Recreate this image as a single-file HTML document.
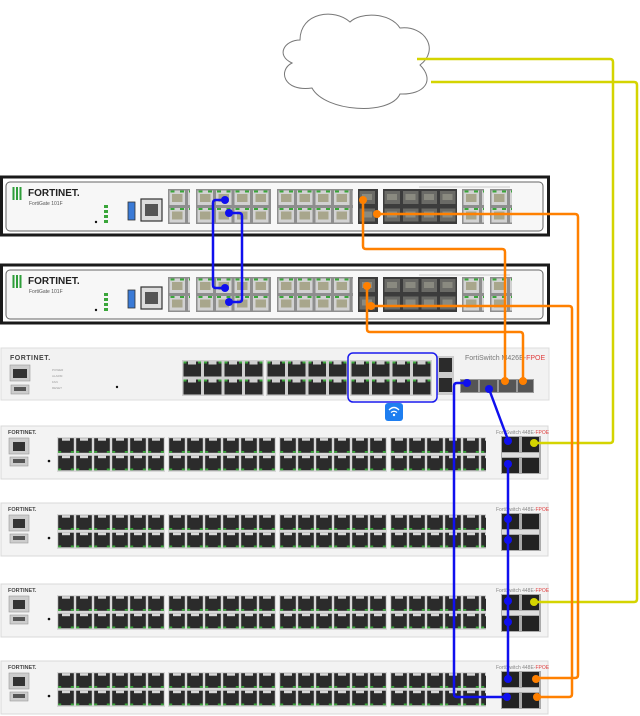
<!DOCTYPE html>
<html><head><meta charset="utf-8"><style>
html,body{margin:0;padding:0;background:#fff;}
svg{display:block;font-family:"Liberation Sans",sans-serif;}
</style></head><body>
<svg width="640" height="716" viewBox="0 0 640 716" xmlns="http://www.w3.org/2000/svg">
<defs>
<pattern id="fgp" x="0" y="0" width="18.5" height="17.5" patternUnits="userSpaceOnUse">
<rect x="0" y="0" width="18.5" height="17.5" fill="#8e8e8e"/>
<rect x="1.5" y="1.5" width="15.5" height="14.5" fill="#d2d2d2"/>
<rect x="4" y="5" width="10.5" height="8" fill="#a8a68c"/>
<rect x="2.5" y="1.5" width="4" height="2" fill="#3aa63a"/>
<rect x="12" y="1.5" width="4" height="2" fill="#3aa63a"/>
</pattern>
<pattern id="sfp" x="0" y="0" width="18.5" height="17.5" patternUnits="userSpaceOnUse">
<rect x="0" y="0" width="18.5" height="17.5" fill="#3c3c3c"/>
<rect x="1.5" y="2" width="15.5" height="13" fill="#6a6a66"/>
<rect x="4" y="5" width="10" height="6" fill="#8a8a80"/>
</pattern>
<pattern id="swp" x="0" y="0" width="18" height="17.5" patternUnits="userSpaceOnUse">
<rect x="0" y="0" width="18" height="17.5" fill="#d8d8d8"/>
<rect x="1.2" y="1.2" width="15.6" height="14.6" fill="#2b2b2b"/>
<rect x="5" y="1.2" width="8" height="2.5" fill="#d8d8d8"/>
<rect x="1.2" y="14" width="3" height="1.8" fill="#3aa63a"/>
<rect x="13.8" y="14" width="3" height="1.8" fill="#3aa63a"/>
</pattern>
<pattern id="mp" x="0" y="0" width="20.5" height="18" patternUnits="userSpaceOnUse">
<rect x="0" y="0" width="20.5" height="18" fill="#cfcfcf"/>
<rect x="1.5" y="1.5" width="17.5" height="15" fill="#2b2b2b"/>
<rect x="6" y="1.5" width="8" height="3" fill="#cfcfcf"/>
<rect x="1.5" y="1.5" width="3" height="2" fill="#3aa63a"/>
<rect x="16" y="1.5" width="3" height="2" fill="#3aa63a"/>
</pattern>
<g id="fg">
<rect x="1.5" y="0" width="547" height="58" fill="#fff" stroke="#1a1a1a" stroke-width="3"/>
<rect x="6" y="5" width="537" height="49" rx="4" fill="#f7f7f7" stroke="#666" stroke-width="1"/>
<rect x="12.5" y="10" width="2" height="13" fill="#2e9e3a"/>
<rect x="16" y="10" width="2" height="13" fill="#2e9e3a"/>
<rect x="19.5" y="10" width="2" height="13" fill="#2e9e3a"/>
<rect x="104" y="28" width="4" height="3" fill="#3aa63a"/><rect x="104" y="33" width="4" height="3" fill="#3aa63a"/>
<rect x="104" y="38" width="4" height="3" fill="#3aa63a"/><rect x="104" y="43" width="4" height="3" fill="#3aa63a"/>
<circle cx="96" cy="45" r="1.2" fill="#111"/>
<rect x="128" y="25" width="7" height="18" fill="#3a7ad6" stroke="#333" stroke-width="0.8"/>
<rect x="141" y="22" width="21" height="22" fill="#ddd" stroke="#333" stroke-width="1.2"/>
<rect x="145" y="27" width="13" height="12" fill="#555"/>
<g transform="translate(168,12)"><rect width="22" height="35" fill="url(#fgp)"/></g>
<g transform="translate(196,12)"><rect width="75" height="35" fill="url(#fgp)"/></g>
<g transform="translate(277,12)"><rect width="76" height="35" fill="url(#fgp)"/></g>
<g transform="translate(358,12)"><rect width="20" height="35" fill="url(#sfp)"/></g>
<g transform="translate(383,12)"><rect width="74" height="35" fill="url(#sfp)"/></g>
<g transform="translate(462,12)"><rect width="22" height="35" fill="url(#fgp)"/></g>
<g transform="translate(490,12)"><rect width="22" height="35" fill="url(#fgp)"/></g>
<line x1="419" y1="10" x2="510" y2="10" stroke="#999" stroke-width="0.6"/>
</g>
<g id="sw">
<rect x="1" y="0" width="547" height="53" fill="#f3f3f3" stroke="#d8d8d8" stroke-width="1"/>
<rect x="9" y="12" width="20" height="16" fill="#ccc" stroke="#999" stroke-width="0.6"/>
<rect x="13" y="16" width="12" height="9" fill="#333"/>
<rect x="10" y="31" width="18" height="9" fill="#ccc" stroke="#999" stroke-width="0.6"/>
<rect x="13" y="33" width="12" height="4" fill="#555"/>
<circle cx="49" cy="35" r="1.3" fill="#111"/>
<g transform="translate(57,11)"><rect width="108" height="35" fill="url(#swp)"/></g>
<g transform="translate(168,11)"><rect width="108" height="35" fill="url(#swp)"/></g>
<g transform="translate(279,11)"><rect width="108" height="35" fill="url(#swp)"/></g>
<g transform="translate(390,11)"><rect width="96" height="35" fill="url(#swp)"/></g>
<rect x="501" y="10" width="40" height="38" fill="#aaa"/>
<rect x="502" y="11" width="17" height="15" fill="#222"/><rect x="522" y="11" width="17" height="15" fill="#222"/>
<rect x="502" y="32" width="17" height="15" fill="#222"/><rect x="522" y="32" width="17" height="15" fill="#222"/>
<rect x="502" y="27" width="37" height="4" fill="#ddd"/>
</g>
</defs>

<path d="M300 40 C285 40 275 55 292 63 C278 70 283 92 312 88 C325 112 390 116 400 94 C425 95 435 80 420 65 C440 50 425 25 400 28 C390 12 360 12 350 22 C335 8 300 12 300 40 Z" fill="#fff" stroke="#777" stroke-width="1"/>

<use href="#fg" transform="translate(0,177)"/>
<use href="#fg" transform="translate(0,265)"/>
<g font-size="10" font-weight="bold" fill="#222"><text x="28" y="196">FORTINET.</text><text x="28" y="284">FORTINET.</text></g>
<g font-size="5" fill="#555"><text x="29" y="205">FortiGate 101F</text><text x="29" y="293">FortiGate 101F</text></g>

<rect x="1" y="348" width="548" height="52" fill="#f2f2f2" stroke="#ddd"/>
<text x="10" y="360" font-size="7" font-weight="bold" fill="#444" letter-spacing="0.5">FORTINET.</text>
<rect x="10" y="365" width="20" height="16" fill="#ccc" stroke="#999" stroke-width="0.6"/><rect x="13" y="369" width="14" height="9" fill="#333"/>
<rect x="11" y="385" width="18" height="9" fill="#ccc" stroke="#999" stroke-width="0.6"/><rect x="14" y="387" width="12" height="4" fill="#555"/>
<g font-size="3" fill="#999"><text x="52" y="371">POWER</text><text x="52" y="377">ALARM</text><text x="52" y="383">FAN</text><text x="52" y="389">RESET</text></g>
<circle cx="117" cy="387" r="1.2" fill="#111"/>
<g transform="translate(182,360)"><rect width="82" height="36" fill="url(#mp)"/></g>
<g transform="translate(266,360)"><rect width="82" height="36" fill="url(#mp)"/></g>
<g transform="translate(350,360)"><rect width="82" height="36" fill="url(#mp)"/></g>
<rect x="437" y="356" width="17" height="39" fill="#ccc"/>
<rect x="439" y="358" width="13" height="14" fill="#2b2b2b"/><rect x="439" y="378" width="13" height="14" fill="#2b2b2b"/>
<text x="465" y="360" font-size="7" fill="#777">FortiSwitch M426E-<tspan fill="#e04040">FPOE</tspan></text>
<rect x="460" y="379" width="74" height="14" fill="#999"/>
<rect x="461" y="380" width="17" height="12" fill="#555"/><rect x="480" y="380" width="17" height="12" fill="#555"/>
<rect x="499" y="380" width="17" height="12" fill="#555"/><rect x="518" y="380" width="15" height="12" fill="#555"/>
<rect x="348" y="353" width="89" height="49" rx="5" fill="none" stroke="#1a1aee" stroke-width="1.5"/>
<rect x="385" y="403" width="18" height="18" rx="3" fill="#1e7ef0"/>
<path d="M389 410 Q394 405 399 410 M391 412.5 Q394 410 397 412.5" stroke="#fff" stroke-width="1.3" fill="none"/><circle cx="394" cy="415" r="1.2" fill="#fff"/>

<use href="#sw" transform="translate(0,426)"/>
<use href="#sw" transform="translate(0,503)"/>
<use href="#sw" transform="translate(0,584)"/>
<use href="#sw" transform="translate(0,661)"/>
<g font-size="5.5" font-weight="bold" fill="#444"><text x="8" y="434">FORTINET.</text><text x="8" y="511">FORTINET.</text><text x="8" y="592">FORTINET.</text><text x="8" y="669">FORTINET.</text></g>
<g font-size="5" fill="#888"><text x="496" y="434">FortiSwitch 448E-<tspan fill="#e04040">FPOE</tspan></text><text x="496" y="511">FortiSwitch 448E-<tspan fill="#e04040">FPOE</tspan></text><text x="496" y="592">FortiSwitch 448E-<tspan fill="#e04040">FPOE</tspan></text><text x="496" y="669">FortiSwitch 448E-<tspan fill="#e04040">FPOE</tspan></text></g>

<g fill="none" stroke="#d4d400" stroke-width="2.5" stroke-linejoin="round">
<path d="M417 59 H610 Q613 59 613 62 V440 Q613 443 610 443 H534"/>
<path d="M431 82 H634 Q637 82 637 85 V599 Q637 602 634 602 H534"/>
</g>
<circle cx="534" cy="443" r="4" fill="#d4d400"/><circle cx="534" cy="602" r="4" fill="#d4d400"/>

<g fill="none" stroke="#ff8000" stroke-width="2.5" stroke-linejoin="round">
<path d="M363 200 V246 Q363 249 366 249 H502 Q505 249 505 252 V382"/>
<path d="M377 214 H575 Q578 214 578 217 V675 Q578 678 575 678 H535"/>
<path d="M367 286 V329 Q367 332 370 332 H520 Q523 332 523 335 V382"/>
<path d="M371 306 H569 Q572 306 572 309 V694 Q572 697 569 697 H537"/>
</g>
<g fill="#ff8000"><circle cx="363" cy="200" r="4"/><circle cx="377" cy="214" r="4"/><circle cx="367" cy="286" r="4"/><circle cx="371" cy="306" r="4"/><circle cx="505" cy="381" r="4"/><circle cx="523" cy="381" r="4"/><circle cx="536" cy="679" r="4"/><circle cx="537" cy="697" r="4"/></g>

<g fill="none" stroke="#1010ee" stroke-width="2.5" stroke-linejoin="round">
<path d="M225 200 H216 Q213 200 213 203 V285 Q213 288 216 288 H225"/>
<path d="M229 213 H239 Q242 213 242 216 V299 Q242 302 239 302 H229"/>
<path d="M467 383 H457 Q454 383 454 386 V694 Q454 697 457 697 H507"/>
<path d="M489 389 L508 440"/>
<path d="M508 463 V679"/>
</g>
<g fill="#1010ee"><circle cx="225" cy="200" r="4"/><circle cx="229" cy="213" r="4"/><circle cx="225" cy="288" r="4"/><circle cx="229" cy="302" r="4"/><circle cx="467" cy="383" r="4"/><circle cx="489" cy="389" r="4"/><circle cx="508" cy="441" r="4"/><circle cx="508" cy="464" r="4"/><circle cx="508" cy="519" r="4"/><circle cx="508" cy="540" r="4"/><circle cx="508" cy="601" r="4"/><circle cx="508" cy="622" r="4"/><circle cx="508" cy="679" r="4"/><circle cx="507" cy="697" r="4"/></g>
</svg>
</body></html>
